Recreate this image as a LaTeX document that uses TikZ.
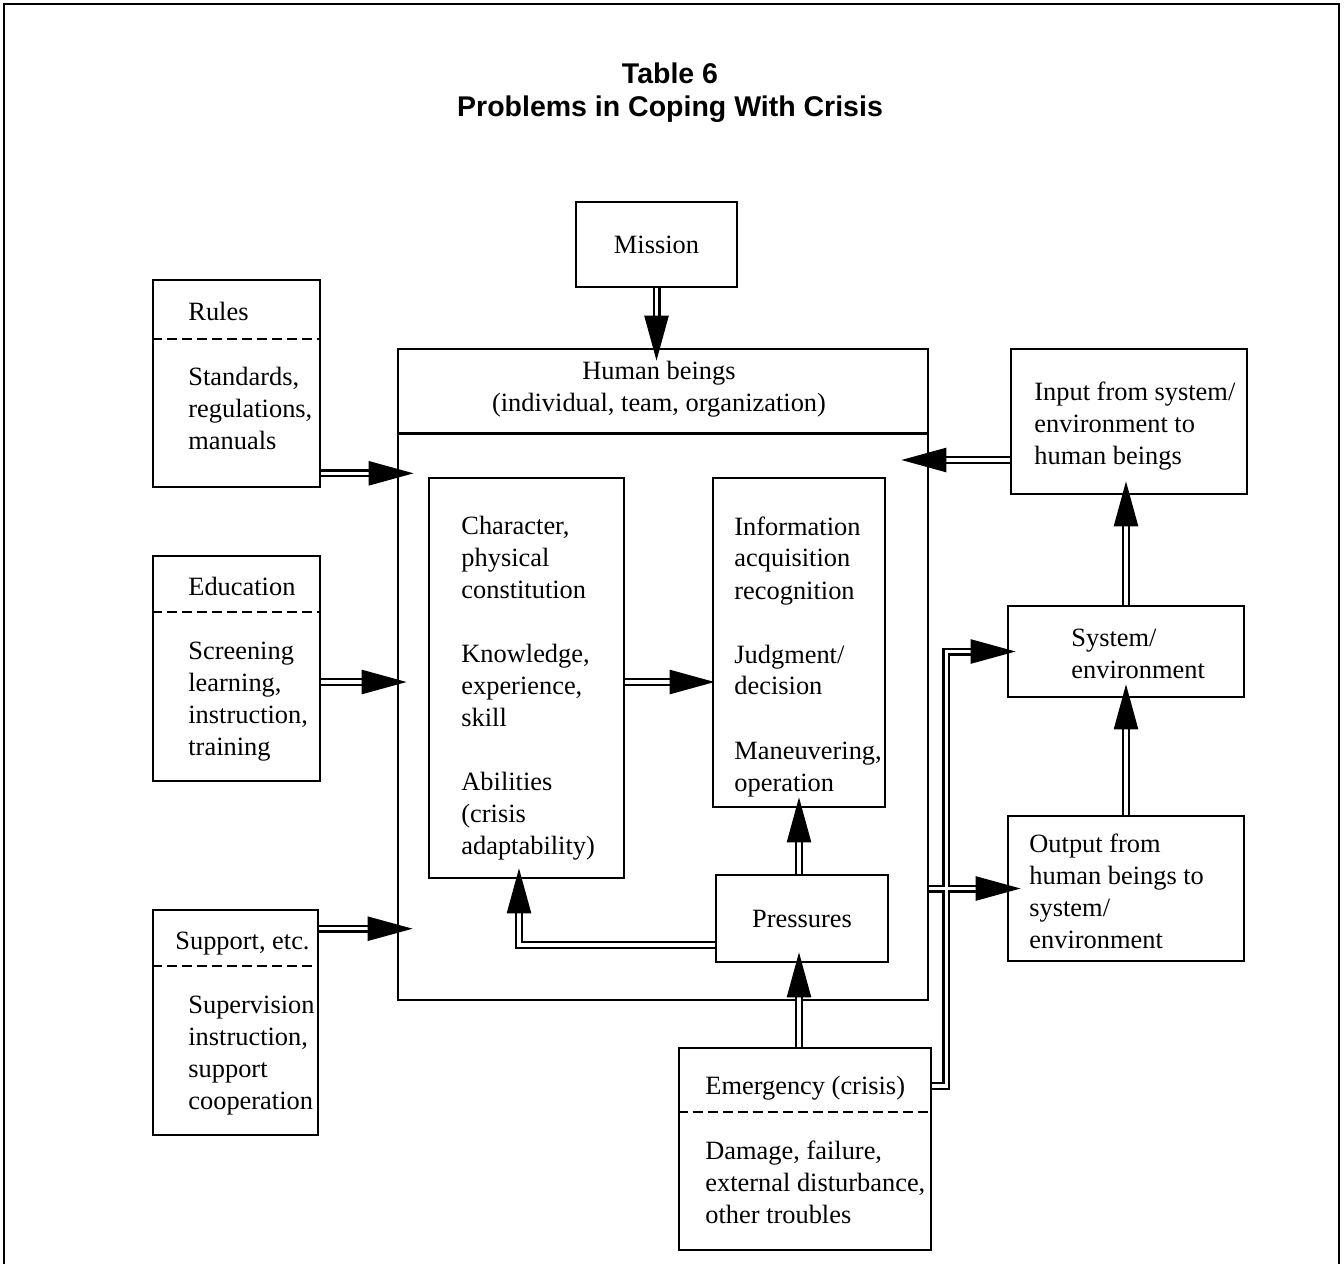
\documentclass[tikz,border=0pt]{standalone}
\usepackage{fontspec}
\setmainfont{Liberation Serif}
\newfontfamily\headfont{Liberation Sans}
\usetikzlibrary{positioning,arrows.meta,calc}

\begin{document}
\begin{tikzpicture}[
  x=0.5pt, y=-0.5pt,
  font=\fontsize{13.2}{16}\selectfont,
  box/.style={draw, line width=1.3pt, inner sep=0pt},
  txt/.style={inner sep=0pt, align=left, anchor=north west},
  split/.style={line width=1pt, dash pattern=on 5pt off 2.5pt},
  flow/.style={double, double distance=1.6pt, line width=1.2pt,
               -{Triangle[length=22.5pt,width=12pt]}, shorten >=-5.5pt},
  title/.style={font=\headfont\bfseries\fontsize{14.25}{16.5}\selectfont,
                align=center, inner sep=0pt, anchor=north},
]
\useasboundingbox (0,0) rectangle (1344,1264);
\draw[line width=1pt] (4,1264) -- (4,4) -- (1339,4) -- (1339,1264);

\node[title] (head) at (670,62) {Table 6\\Problems in Coping With Crisis};

% boxes
\node[box, minimum width=80.5pt, minimum height=42.5pt] (mission) at (656.5,244.5) {Mission};
\node[box, minimum width=265pt, minimum height=325.5pt] (hb) at (663,674.5) {};
\node[box, minimum width=83.5pt, minimum height=103.5pt] (rules) at (236.5,383.5) {};
\node[box, minimum width=83.5pt, minimum height=112.5pt] (edu) at (236.5,668.5) {};
\node[box, minimum width=82.5pt, minimum height=112.5pt] (supp) at (235.5,1022.5) {};
\node[box, minimum width=97.5pt, minimum height=200pt] (char) at (526.5,678) {};
\node[box, minimum width=86pt, minimum height=164.5pt] (info) at (799,642.5) {};
\node[box, minimum width=86pt, minimum height=43.5pt] (pres) at (802,918.5) {Pressures};
\node[box, minimum width=126pt, minimum height=101pt] (emg) at (805,1149) {};
\node[box, minimum width=118pt, minimum height=72.5pt] (input) at (1129,421.5) {};
\node[box, minimum width=118pt, minimum height=45.5pt] (sys) at (1126,651.5) {};
\node[box, minimum width=118pt, minimum height=72.5pt] (out) at (1126,888.5) {};

% dividers
\draw[line width=1.3pt] ([yshift=-43pt]hb.north west) -- ([yshift=-43pt]hb.north east);
\draw[split] ([yshift=-30pt]rules.north west) -- ([yshift=-30pt]rules.north east);
\draw[split] ([yshift=-28.5pt]edu.north west) -- ([yshift=-28.5pt]edu.north east);
\draw[split] ([yshift=-28.5pt]supp.north west) -- ([yshift=-28.5pt]supp.north east);
\draw[split] ([yshift=-32.5pt]emg.north west) -- ([yshift=-32.5pt]emg.north east);

% texts
\node[txt, anchor=north, align=center] (hb-t) at (659,361) {Human beings\\(individual, team, organization)};
\node[txt] (rules-h) at (188,302) {Rules};
\node[txt] (rules-b) at (188,367) {Standards,\\regulations,\\manuals};
\node[txt] (edu-h) at (188,577) {Education};
\node[txt] (edu-b) at (188,642) {Screening\\learning,\\instruction,\\training};
\node[txt] (supp-h) at (175,932) {Support, etc.};
\node[txt] (supp-b) at (188,996) {Supervision\\instruction,\\support\\cooperation};
\node[txt] (char-t) at (461,516) {Character,\\physical\\constitution\\[16pt]Knowledge,\\experience,\\skill\\[16pt]Abilities\\(crisis\\adaptability)};
\node[txt] (info-t) at (734,516) {Information\\acquisition\\recognition\\[16pt]Judgment/\\decision\\[16pt]Maneuvering,\\operation};
\node[txt] (input-t) at (1034,382) {Input from system/\\environment to\\human beings};
\node[txt] (sys-t) at (1071,629) {System/\\environment};
\node[txt] (out-t) at (1029,833) {Output from\\human beings to\\system/\\environment};
\node[txt] (emg-h) at (705,1076) {Emergency (crisis)};
\node[txt] (emg-b) at (705,1140) {Damage, failure,\\external disturbance,\\other troubles};

% connectors
\coordinate (riser) at ([xshift=7pt]emg.east);
\draw[flow, shorten >=-6.5pt] (mission.south) -- (mission.south |- hb.north);
\draw[flow, shorten >=-8.5pt] ([yshift=7.5pt]rules.south east) coordinate (r) -- (r -| hb.west);
\draw[flow, shorten >=-5pt] ([yshift=-6.75pt]edu.east) coordinate (e) -- (e -| hb.west);
\draw[flow, shorten >=-8pt] ([yshift=-10pt]supp.north east) coordinate (s) -- (s -| hb.west);
\draw[flow, shorten >=-14pt] ([yshift=-19.25pt]input.west) coordinate (i) -- (i -| hb.east);
\draw[flow, shorten >=-1.5pt] ([yshift=-2pt]char.east) coordinate (c) -- (c -| info.west);
\draw[flow] ([yshift=-13.25pt]pres.west) -| ([xshift=-3.75pt]char.south);
\draw[flow] (pres.north -| info.south) -- (info.south);
\draw[flow] (emg.north -| info.south) -- (pres.south -| info.south);
\draw[flow, shorten >=-7pt] (hb.east |- out.west) -- (out.west);
\draw[flow, shorten >=-4.5pt] ([yshift=31.5pt]emg.east) -- ([yshift=31.5pt]riser) |- (sys.west);
\draw[white, line width=1.6pt] ([xshift=-5pt]riser |- out.west) -- ([xshift=5pt]riser |- out.west);
\draw[flow, shorten >=-7pt] (out.north) -- (out.north |- sys.south);
\draw[flow, shorten >=-7pt] (sys.north) -- (sys.north |- input.south);
\end{tikzpicture}
\end{document}
